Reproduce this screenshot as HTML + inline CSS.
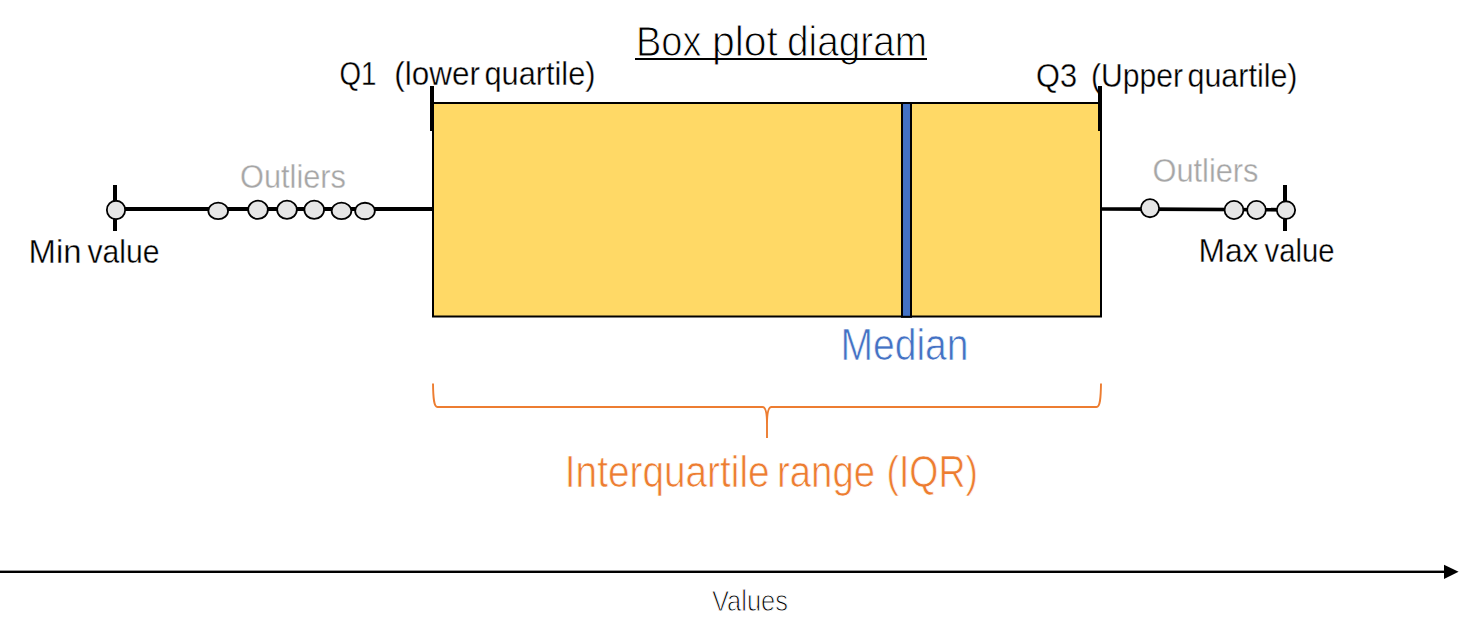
<!DOCTYPE html>
<html>
<head>
<meta charset="utf-8">
<style>
html,body{margin:0;padding:0;background:#fff;width:1475px;height:636px;overflow:hidden;}
svg{display:block;}
text{font-family:"Liberation Sans",sans-serif;}
.er{stroke:#fff;stroke-width:0.7px;paint-order:normal;}
.er3{stroke:#fff;stroke-width:0.35px;paint-order:normal;}
.er1{stroke:#fff;stroke-width:1px;paint-order:normal;}
</style>
</head>
<body>
<svg width="1475" height="636" viewBox="0 0 1475 636">
  <!-- Title -->
  <text x="636" y="56" font-size="43" class="er1" fill="#000" textLength="65.5" lengthAdjust="spacingAndGlyphs">Box</text>
  <text x="712" y="56" font-size="43" class="er1" fill="#000" textLength="66" lengthAdjust="spacingAndGlyphs">plot</text>
  <text x="787" y="56" font-size="43" class="er1" fill="#000" textLength="140" lengthAdjust="spacingAndGlyphs">diagram</text>
  <rect x="635" y="58" width="292" height="2" fill="#000"/>

  <!-- Q labels -->
  <text x="339.5" y="85" font-size="33" class="er3" fill="#000" textLength="37" lengthAdjust="spacingAndGlyphs">Q1</text>
  <text x="394.3" y="85" font-size="33" class="er3" fill="#000" textLength="85.7" lengthAdjust="spacingAndGlyphs">(lower</text>
  <text x="484.5" y="85" font-size="33" class="er3" fill="#000" textLength="111" lengthAdjust="spacingAndGlyphs">quartile)</text>
  <text x="1036" y="87" font-size="33" class="er3" fill="#000" textLength="41" lengthAdjust="spacingAndGlyphs">Q3</text>
  <text x="1091" y="87" font-size="33" class="er3" fill="#000" textLength="92" lengthAdjust="spacingAndGlyphs">(Upper</text>
  <text x="1187.5" y="87" font-size="33" class="er3" fill="#000" textLength="110" lengthAdjust="spacingAndGlyphs">quartile)</text>

  <!-- Outliers labels -->
  <text x="240" y="188" font-size="34" class="er3" fill="#a6a6a6" textLength="106" lengthAdjust="spacingAndGlyphs">Outliers</text>
  <text x="1152.5" y="182" font-size="34" class="er3" fill="#a6a6a6" textLength="106" lengthAdjust="spacingAndGlyphs">Outliers</text>

  <!-- Min / Max -->
  <text x="28.5" y="263" font-size="33.5" class="er3" fill="#000" textLength="53" lengthAdjust="spacingAndGlyphs">Min</text>
  <text x="87.5" y="263" font-size="33.5" class="er3" fill="#000" textLength="72" lengthAdjust="spacingAndGlyphs">value</text>
  <text x="1198.5" y="262" font-size="33.5" class="er3" fill="#000" textLength="60" lengthAdjust="spacingAndGlyphs">Max</text>
  <text x="1264.5" y="262" font-size="33.5" class="er3" fill="#000" textLength="70" lengthAdjust="spacingAndGlyphs">value</text>

  <!-- whisker lines -->
  <rect x="116" y="207" width="316" height="4" fill="#000"/>
  <path d="M1101 209 L1150 209.1 L1286 209.8" fill="none" stroke="#000" stroke-width="3.7"/>
  <!-- ticks -->
  <rect x="113" y="185" width="4" height="46" fill="#000"/>
  <rect x="1283" y="185" width="4" height="46" fill="#000"/>

  <!-- circles left -->
  <g fill="#e6e6e6" stroke="#000" stroke-width="1.8">
    <ellipse cx="116" cy="210" rx="9.15" ry="9.25"/>
    <ellipse cx="218.2" cy="210.9" rx="9.85" ry="8.25"/>
    <ellipse cx="258" cy="209.8" rx="9.85" ry="9.15"/>
    <ellipse cx="287" cy="209.8" rx="9.85" ry="9.15"/>
    <ellipse cx="314.2" cy="209.8" rx="9.85" ry="9.15"/>
    <ellipse cx="341.5" cy="210.9" rx="9.85" ry="8.25"/>
    <ellipse cx="365" cy="211" rx="9.85" ry="8.25"/>
    <!-- right -->
    <ellipse cx="1150" cy="208.2" rx="9.10" ry="9.05"/>
    <ellipse cx="1234" cy="210" rx="9.45" ry="9.05"/>
    <ellipse cx="1256.5" cy="210" rx="9.35" ry="9.05"/>
    <ellipse cx="1286" cy="210.1" rx="9.15" ry="8.85"/>
  </g>

  <!-- box -->
  <rect x="433" y="103" width="668" height="213.5" fill="#ffd966" stroke="#000" stroke-width="2"/>
  <rect x="430" y="86" width="4" height="45" fill="#000"/>
  <rect x="1098" y="86" width="4" height="45" fill="#000"/>
  <!-- median -->
  <rect x="902" y="103" width="9" height="213.8" fill="#4472c4" stroke="#000" stroke-width="2"/>

  <text x="840.5" y="359.6" font-size="43.5" class="er" fill="#4472c4" textLength="128" lengthAdjust="spacingAndGlyphs">Median</text>

  <!-- IQR bracket -->
  <path d="M433 383.5 C433.2 399 434 407 437.5 407 L762.5 407 C765.5 407 767 411 767 424 L767 438 M767 424 C767 411 768.5 407 771.5 407 L1096.5 407 C1100 407 1100.8 399 1101 383.5" fill="none" stroke="#ed7d31" stroke-width="1.9"/>
  <text x="564.8" y="487" font-size="43.5" class="er" fill="#ed7d31" textLength="204.8" lengthAdjust="spacingAndGlyphs">Interquartile</text>
  <text x="777" y="487" font-size="43.5" class="er" fill="#ed7d31" textLength="98" lengthAdjust="spacingAndGlyphs">range</text>
  <text x="886.5" y="487" font-size="43.5" class="er" fill="#ed7d31" textLength="91.5" lengthAdjust="spacingAndGlyphs">(IQR)</text>

  <!-- axis -->
  <rect x="0" y="570.6" width="1446" height="2.4" fill="#000"/>
  <polygon points="1444,564.8 1458.6,571.8 1444,578.9" fill="#000"/>
  <text x="712" y="611" font-size="30" class="er1" fill="#000" textLength="76" lengthAdjust="spacingAndGlyphs">Values</text>
</svg>
</body>
</html>
